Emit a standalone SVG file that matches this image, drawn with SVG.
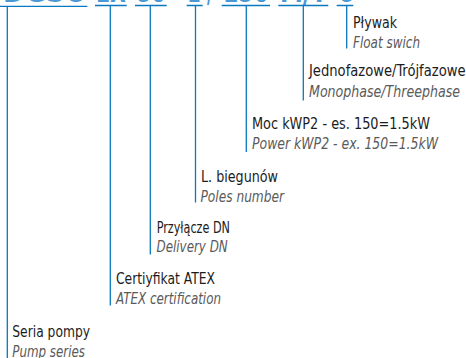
<svg xmlns="http://www.w3.org/2000/svg" width="466" height="358" viewBox="0 0 466 358">
<style>
.pl{font-family:"Liberation Sans Narrow","DejaVu Sans Condensed","Liberation Sans",sans-serif;font-size:16px;fill:#1c1c1c;}
.en{font-family:"Liberation Sans Narrow","DejaVu Sans Condensed","Liberation Sans",sans-serif;font-size:16px;font-style:italic;fill:#5a5a5a;}
.code{font-family:"Liberation Sans Narrow","DejaVu Sans Condensed","Liberation Sans",sans-serif;font-size:30px;font-weight:bold;fill:#4a98d4;}
.ln{stroke:#0a78be;stroke-width:1.3;fill:none;}
</style>
<rect width="466" height="358" fill="#fff"/>
<g id="code">
<text class="code" x="3" y="2" textLength="84" lengthAdjust="spacingAndGlyphs">DGSO</text>
<text class="code" x="96" y="2" textLength="30" lengthAdjust="spacingAndGlyphs">EX</text>
<text class="code" x="136" y="2" textLength="30" lengthAdjust="spacingAndGlyphs">80</text>
<text class="code" x="188" y="2" textLength="13" lengthAdjust="spacingAndGlyphs">2</text>
<text class="code" x="207" y="2" textLength="6" lengthAdjust="spacingAndGlyphs">/</text>
<text class="code" x="223" y="2" textLength="46" lengthAdjust="spacingAndGlyphs">150</text>
<text class="code" x="280" y="2" textLength="47" lengthAdjust="spacingAndGlyphs">M/T</text>
<text class="code" x="338" y="2" textLength="15" lengthAdjust="spacingAndGlyphs">G</text>
</g>
<g id="connectors">
<path class="ln" d="M0 6.3H87.3M7.3 6.3V358"/>
<path class="ln" d="M95 5.5H126.7M110.3 5.5V305.5"/>
<path class="ln" d="M135 5.5H166.7M150.3 5.5V254.5"/>
<path class="ln" d="M186.7 5.5H202.7M195.5 5.5V202.5"/>
<path class="ln" d="M221.7 5.5H270M246.3 5.5V152"/>
<path class="ln" d="M278.3 5.5H328.3M303.3 5.5V100.5"/>
<path class="ln" d="M336.7 5.5H353.3M346.7 5.5V48.5"/>
</g>
<g id="plywak">
<text class="pl" x="353" y="27.7" textLength="44" lengthAdjust="spacingAndGlyphs">Pływak</text>
<text class="en" x="353" y="48" textLength="67" lengthAdjust="spacingAndGlyphs">Float swich</text>
</g>
<g id="fazy">
<text class="pl" x="309" y="76" textLength="156.5" lengthAdjust="spacingAndGlyphs">Jednofazowe/Trójfazowe</text>
<text class="en" x="309" y="96.7" textLength="151" lengthAdjust="spacingAndGlyphs">Monophase/Threephase</text>
</g>
<g id="moc">
<text class="pl" x="252" y="129.3" textLength="178" lengthAdjust="spacingAndGlyphs">Moc kWP2 - es. 150=1.5kW</text>
<text class="en" x="252" y="149.3" textLength="186" lengthAdjust="spacingAndGlyphs">Power kWP2 - ex. 150=1.5kW</text>
</g>
<g id="bieguny">
<text class="pl" x="201" y="182.3" textLength="77" lengthAdjust="spacingAndGlyphs">L. biegunów</text>
<text class="en" x="200.5" y="201.7" textLength="83.5" lengthAdjust="spacingAndGlyphs">Poles number</text>
</g>
<g id="przylacze">
<text class="pl" x="156.7" y="232.7" textLength="73.3" lengthAdjust="spacingAndGlyphs">Przyłącze DN</text>
<text class="en" x="156.5" y="251.7" textLength="71.2" lengthAdjust="spacingAndGlyphs">Delivery DN</text>
</g>
<g id="atex">
<text class="pl" x="116" y="284.3" textLength="99" lengthAdjust="spacingAndGlyphs">Certiyfikat ATEX</text>
<text class="en" x="116" y="304.3" textLength="105" lengthAdjust="spacingAndGlyphs">ATEX certification</text>
</g>
<g id="seria">
<text class="pl" x="12.3" y="337.3" textLength="77.7" lengthAdjust="spacingAndGlyphs">Seria pompy</text>
<text class="en" x="12.3" y="356.5" textLength="72.7" lengthAdjust="spacingAndGlyphs">Pump series</text>
</g>
</svg>
